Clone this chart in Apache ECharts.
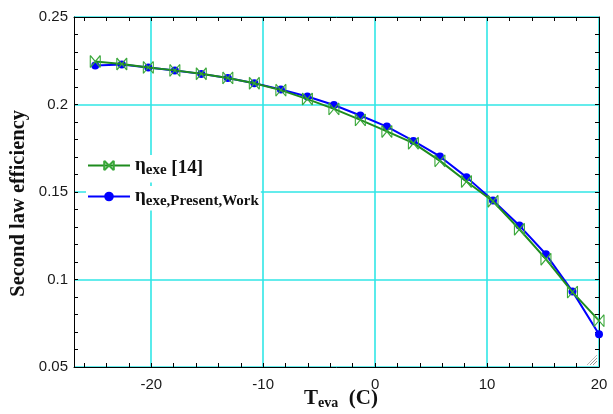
<!DOCTYPE html>
<html>
<head>
<meta charset="utf-8">
<script src="https://cdn.jsdelivr.net/npm/echarts@6/dist/echarts.min.js"></script>
<style>
  html, body { margin: 0; padding: 0; background: #fff; }
  #chart { width: 613px; height: 414px; }
</style>
</head>
<body>
<div id="chart"></div>
<script>
// Evaporator temperature (°C)
const tEva = [-25, -22.63, -20.26, -17.89, -15.53, -13.16, -10.79, -8.42, -6.05, -3.68,
              -1.32, 1.05, 3.42, 5.79, 8.16, 10.53, 12.89, 15.26, 17.63, 20];
// Second-law efficiency, reference [14]
const etaRef = [0.2246, 0.2231, 0.2212, 0.2195, 0.2176, 0.2152, 0.2121, 0.2082, 0.2031, 0.1975,
                0.1912, 0.1846, 0.1779, 0.1678, 0.1560, 0.1447, 0.1287, 0.1116, 0.0928, 0.0765];
// Second-law efficiency, present work
const etaPresent = [0.2223, 0.2229, 0.2211, 0.2194, 0.2175, 0.2151, 0.2122, 0.2086, 0.2046, 0.1997,
                    0.1937, 0.1874, 0.1792, 0.1703, 0.1585, 0.1451, 0.1308, 0.1144, 0.0932, 0.0687];

const xLabels = [-20, -10, 0, 10, 20];
const xTicks = [-26, -24, -22, -20, -18, -16, -14, -12, -10, -8, -6, -4, -2, 0,
                2, 4, 6, 8, 10, 12, 14, 16, 18, 20];

const NAME_REF = 'eta_ref';
const NAME_PRESENT = 'eta_present';

const GREEN = '#1e8c1e';
const GREEN_MARK = '#3aa83a';
const BLUE = '#0000ff';
const CYAN = '#30e6e6';
const SERIF = '"Liberation Serif", "Times New Roman", serif';
const SANS = '"Liberation Sans", Arial, sans-serif';

// bow-tie marker drawn as four open strokes (two vertical sides, two diagonals)
const bowtie = 'path://M0,0L10,10M10,0L0,10M0,0L0,10M10,0L10,10';

const richLegend = {
  eta: { fontFamily: SERIF, fontWeight: 'bold', fontSize: 19, lineHeight: 24, color: '#111', verticalAlign: 'middle' },
  sub: { fontFamily: SERIF, fontWeight: 'bold', fontSize: 15, lineHeight: 15, color: '#111', verticalAlign: 'bottom' },
  big: { fontFamily: SERIF, fontWeight: 'bold', fontSize: 19, lineHeight: 22, color: '#111', verticalAlign: 'bottom' }
};

function legendText(name) {
  if (name === NAME_REF) return '{eta|η}{sub|exe}{big| [14]}';
  return '{eta|η}{sub|exe,Present,Work}';
}

function frameLine() {
  return { show: true, onZero: false, lineStyle: { color: '#000', width: 1 } };
}
function ticks(values) {
  const t = { show: true, inside: true, length: 4, lineStyle: { color: '#000', width: 1 } };
  if (values) t.customValues = values;
  return t;
}
function minor() {
  return { show: true, splitNumber: 5, length: 4, lineStyle: { color: '#000', width: 1 } };
}
function grid() {
  return { show: true, lineStyle: { color: CYAN, width: 1.6, opacity: 1 } };
}

const chart = echarts.init(document.getElementById('chart'), null, { renderer: 'canvas' });

chart.setOption({
  animation: false,
  backgroundColor: '#fff',
  grid: { left: 74, top: 17, width: 525, height: 350, containLabel: false },
  xAxis: [
    { // labels and vertical grid lines
      type: 'value', position: 'bottom', min: -26.9, max: 20,
      axisLine: frameLine(),
      axisTick: { show: false, customValues: xLabels },
      axisLabel: { customValues: xLabels, margin: 10, fontFamily: SANS, fontSize: 15, color: '#1a1a1a' },
      splitLine: grid()
    },
    { // bottom ticks
      type: 'value', position: 'bottom', min: -26.9, max: 20,
      axisLine: { show: false },
      axisTick: ticks(xTicks),
      axisLabel: { show: false },
      splitLine: { show: false }
    },
    { // top frame and ticks
      type: 'value', position: 'top', min: -26.9, max: 20,
      axisLine: frameLine(),
      axisTick: ticks(xTicks),
      axisLabel: { show: false },
      splitLine: { show: false }
    }
  ],
  yAxis: [
    {
      type: 'value', position: 'left', min: 0.05, max: 0.25, interval: 0.05,
      axisLine: frameLine(),
      axisTick: ticks(),
      minorTick: minor(),
      axisLabel: { margin: 6, fontFamily: SANS, fontSize: 15, color: '#1a1a1a' },
      splitLine: grid()
    },
    {
      type: 'value', position: 'right', min: 0.05, max: 0.25, interval: 0.05,
      axisLine: frameLine(),
      axisTick: ticks(),
      minorTick: minor(),
      axisLabel: { show: false },
      splitLine: { show: false }
    }
  ],
  legend: [
    {
      data: [NAME_REF], orient: 'vertical', left: 86, top: 155,
      itemWidth: 42, itemHeight: 12, padding: [1, 4, 5, 1],
      backgroundColor: '#fff', formatter: legendText,
      textStyle: { rich: richLegend }
    },
    {
      data: [NAME_PRESENT], orient: 'vertical', left: 86, top: 186,
      itemWidth: 42, itemHeight: 12, padding: [1, 2, 2, 1],
      backgroundColor: '#fff', formatter: legendText,
      textStyle: { rich: richLegend }
    }
  ],
  series: [
    {
      name: NAME_PRESENT, type: 'line', xAxisIndex: 0, yAxisIndex: 0,
      data: tEva.map((t, i) => [t, etaPresent[i]]),
      lineStyle: { color: BLUE, width: 2 },
      symbol: 'circle', symbolSize: 8,
      itemStyle: { color: BLUE },
      z: 2
    },
    {
      name: NAME_REF, type: 'line', xAxisIndex: 0, yAxisIndex: 0,
      data: tEva.map((t, i) => [t, etaRef[i]]),
      lineStyle: { color: GREEN, width: 2 },
      symbol: bowtie, symbolSize: [10, 12],
      itemStyle: { color: GREEN_MARK, borderColor: GREEN_MARK, borderWidth: 1.2 },
      z: 3
    }
  ],
  graphic: [
    {
      type: 'text', left: 8, top: 110, rotation: Math.PI / 2,
      style: {
        text: 'Second law efficiency',
        fontFamily: SERIF, fontWeight: 'bold', fontSize: 20.5, fill: '#111'
      }
    },
    {
      type: 'text', left: 304, top: 388,
      style: {
        text: '{T|T}{s|eva}{T|  (C)}',
        rich: {
          T: { fontFamily: SERIF, fontWeight: 'bold', fontSize: 21, lineHeight: 24, fill: '#111', verticalAlign: 'middle' },
          s: { fontFamily: SERIF, fontWeight: 'bold', fontSize: 14, lineHeight: 14, fill: '#111', verticalAlign: 'bottom' }
        }
      }
    },
    // resize grip in the lower-right corner
    { type: 'line', shape: { x1: 590, y1: 365, x2: 597, y2: 358 }, style: { stroke: '#999', lineWidth: 1 } },
    { type: 'line', shape: { x1: 593, y1: 365, x2: 597, y2: 361 }, style: { stroke: '#999', lineWidth: 1 } },
    { type: 'line', shape: { x1: 587, y1: 365, x2: 597, y2: 355 }, style: { stroke: '#bbb', lineWidth: 1 } }
  ]
});
</script>
</body>
</html>
